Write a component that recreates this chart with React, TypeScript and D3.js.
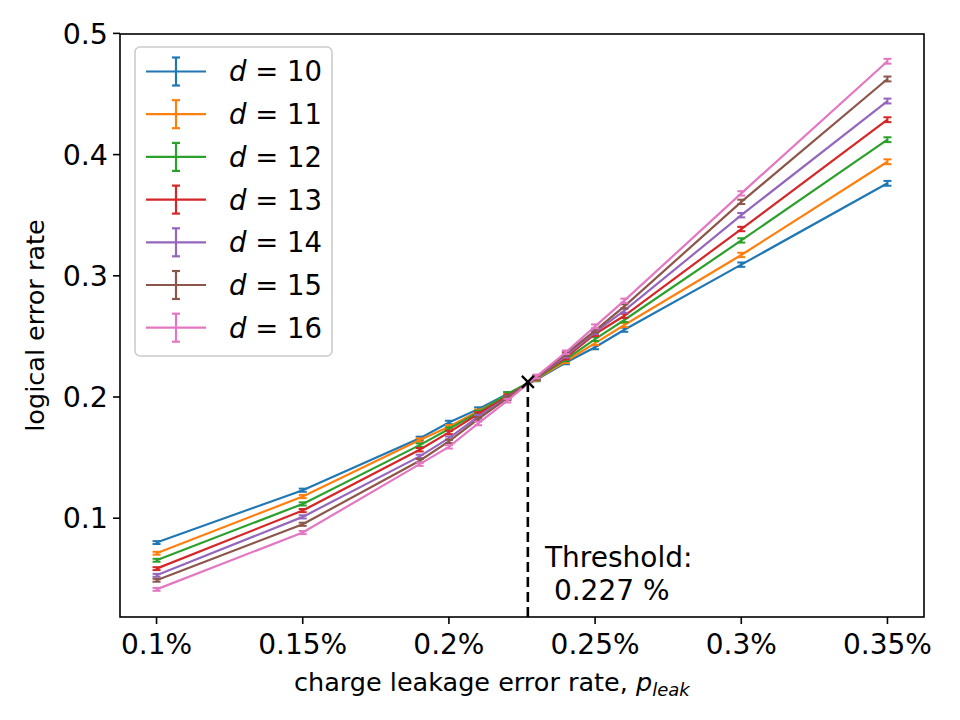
import React, { useEffect } from "react";
import * as d3 from "d3";

const xValues = [0.10, 0.15, 0.19, 0.20, 0.21, 0.22, 0.23, 0.24, 0.25, 0.26, 0.30, 0.35];
const distances = [10, 11, 12, 13, 14, 15, 16];
const d10 = [0.0799, 0.1231, 0.1659, 0.1790, 0.1900, 0.2025, 0.2145, 0.2285, 0.2410, 0.2555, 0.3092, 0.3763];
const d11 = [0.0711, 0.1179, 0.1645, 0.1755, 0.1882, 0.2015, 0.2150, 0.2295, 0.2445, 0.2594, 0.3172, 0.3941];
const d12 = [0.0653, 0.1118, 0.1603, 0.1736, 0.1873, 0.2025, 0.2155, 0.2310, 0.2478, 0.2635, 0.3292, 0.4123];
const d13 = [0.0584, 0.1063, 0.1565, 0.1708, 0.1860, 0.2005, 0.2160, 0.2325, 0.2520, 0.2670, 0.3386, 0.4288];
const d14 = [0.0529, 0.1011, 0.1510, 0.1661, 0.1837, 0.1995, 0.2163, 0.2340, 0.2535, 0.2712, 0.3500, 0.4442];
const d15 = [0.0488, 0.0950, 0.1474, 0.1634, 0.1818, 0.1990, 0.2165, 0.2355, 0.2547, 0.2748, 0.3610, 0.4624];
const d16 = [0.0413, 0.0882, 0.1446, 0.1589, 0.1782, 0.1970, 0.2170, 0.2369, 0.2583, 0.2795, 0.3680, 0.4770];
const errHalf = [0.0012, 0.0013, 0.0014, 0.0014, 0.0015, 0.0015, 0.0015, 0.0015, 0.0016, 0.0017, 0.0018, 0.0020];
const seriesValues = [d10, d11, d12, d13, d14, d15, d16];
const colors = ["#1f77b4", "#ff7f0e", "#2ca02c", "#d62728", "#9467bd", "#8c564b", "#e377c2"];
const xTicks = [0.10, 0.15, 0.20, 0.25, 0.30, 0.35];
const xTickLabels = ["0.1%", "0.15%", "0.2%", "0.25%", "0.3%", "0.35%"];
const yTicks = [0.1, 0.2, 0.3, 0.4, 0.5];
const threshold = 0.227;
const thresholdY = 0.2125;

const W = 960, H = 720;
const L = 120, R = 924, T = 34, B = 617;
const FONT = "'DejaVu Sans', sans-serif";

export default function App() {
  useEffect(() => {
    document.body.style.margin = "0";
  }, []);

  const x = d3.scaleLinear().domain([0.0875, 0.3625]).range([L, R]);
  const y = d3.scaleLinear().domain([0.0185, 0.4995]).range([B, T]);
  const line = d3.line<number>().x((_, i) => x(xValues[i])).y((v) => y(v));

  const cap = 4;
  const lx = 146, lx2 = 206, lcx = 176, ltx = 229, ly0 = 71.5, lstep = 42.7;

  return (
    <svg width={W} height={H} style={{ position: "absolute", left: 0, top: 0, background: "#fff" }} fontFamily={FONT}>
      <rect x={0} y={0} width={W} height={H} fill="#fff" />
      {seriesValues.map((vals, si) => (
        <g key={si} stroke={colors[si]} fill="none">
          <path d={line(vals) || ""} strokeWidth={2.2} />
          {vals.map((v, i) => {
            const cx = x(xValues[i]);
            const y1 = y(v - errHalf[i]);
            const y2 = y(v + errHalf[i]);
            return (
              <g key={i} strokeWidth={2}>
                <line x1={cx} x2={cx} y1={y1} y2={y2} />
                <line x1={cx - cap} x2={cx + cap} y1={y1} y2={y1} />
                <line x1={cx - cap} x2={cx + cap} y1={y2} y2={y2} />
              </g>
            );
          })}
        </g>
      ))}
      <line x1={x(threshold)} x2={x(threshold)} y1={B} y2={y(thresholdY)} stroke="#000" strokeWidth={2.6} strokeDasharray="10,5" />
      <g stroke="#000" strokeWidth={2.2}>
        <line x1={x(threshold) - 6} x2={x(threshold) + 6} y1={y(thresholdY) - 6} y2={y(thresholdY) + 6} />
        <line x1={x(threshold) - 6} x2={x(threshold) + 6} y1={y(thresholdY) + 6} y2={y(thresholdY) - 6} />
      </g>
      <text x={545} y={567} fontSize={28} fill="#000">Threshold:</text>
      <text x={545} y={600} fontSize={28} fill="#000" xmlSpace="preserve">{" 0.227 %"}</text>
      <rect x={L} y={T} width={R - L} height={B - T} fill="none" stroke="#000" strokeWidth={1.6} />
      {xTicks.map((t, i) => (
        <g key={i}>
          <line x1={x(t)} x2={x(t)} y1={B} y2={B + 7} stroke="#000" strokeWidth={1.6} />
          <text x={x(t)} y={B + 37} fontSize={28} textAnchor="middle" fill="#000">{xTickLabels[i]}</text>
        </g>
      ))}
      {yTicks.map((t, i) => (
        <g key={i}>
          <line x1={L - 7} x2={L} y1={y(t)} y2={y(t)} stroke="#000" strokeWidth={1.6} />
          <text x={L - 12} y={y(t)} dy="0.36em" fontSize={28.5} textAnchor="end" fill="#000">{d3.format(".1f")(t)}</text>
        </g>
      ))}
      <text x={294} y={691} fontSize={25.5} textAnchor="start" fill="#000">
        charge leakage error rate, <tspan fontStyle="italic">p</tspan>
        <tspan fontStyle="italic" fontSize={18} dy={5}>leak</tspan>
      </text>
      <text transform={`translate(44, ${(T + B) / 2}) rotate(-90)`} fontSize={25.5} textAnchor="middle" fill="#000">logical error rate</text>
      <rect x={135} y={47} width={197} height={309} rx={5} fill="#fff" fillOpacity={0.8} stroke="#cccccc" strokeWidth={1.6} />
      {distances.map((d, i) => {
        const cy = ly0 + i * lstep;
        return (
          <g key={i}>
            <g stroke={colors[i]} strokeWidth={2.2}>
              <line x1={lx} x2={lx2} y1={cy} y2={cy} />
              <line x1={lcx} x2={lcx} y1={cy - 14} y2={cy + 14} />
              <line x1={lcx - 4} x2={lcx + 4} y1={cy - 14} y2={cy - 14} />
              <line x1={lcx - 4} x2={lcx + 4} y1={cy + 14} y2={cy + 14} />
            </g>
            <text x={ltx} y={cy} dy="0.36em" fontSize={27.5} fill="#000" xmlSpace="preserve">
              <tspan fontStyle="italic">d</tspan>
              <tspan>{` = ${d}`}</tspan>
            </text>
          </g>
        );
      })}
    </svg>
  );
}
